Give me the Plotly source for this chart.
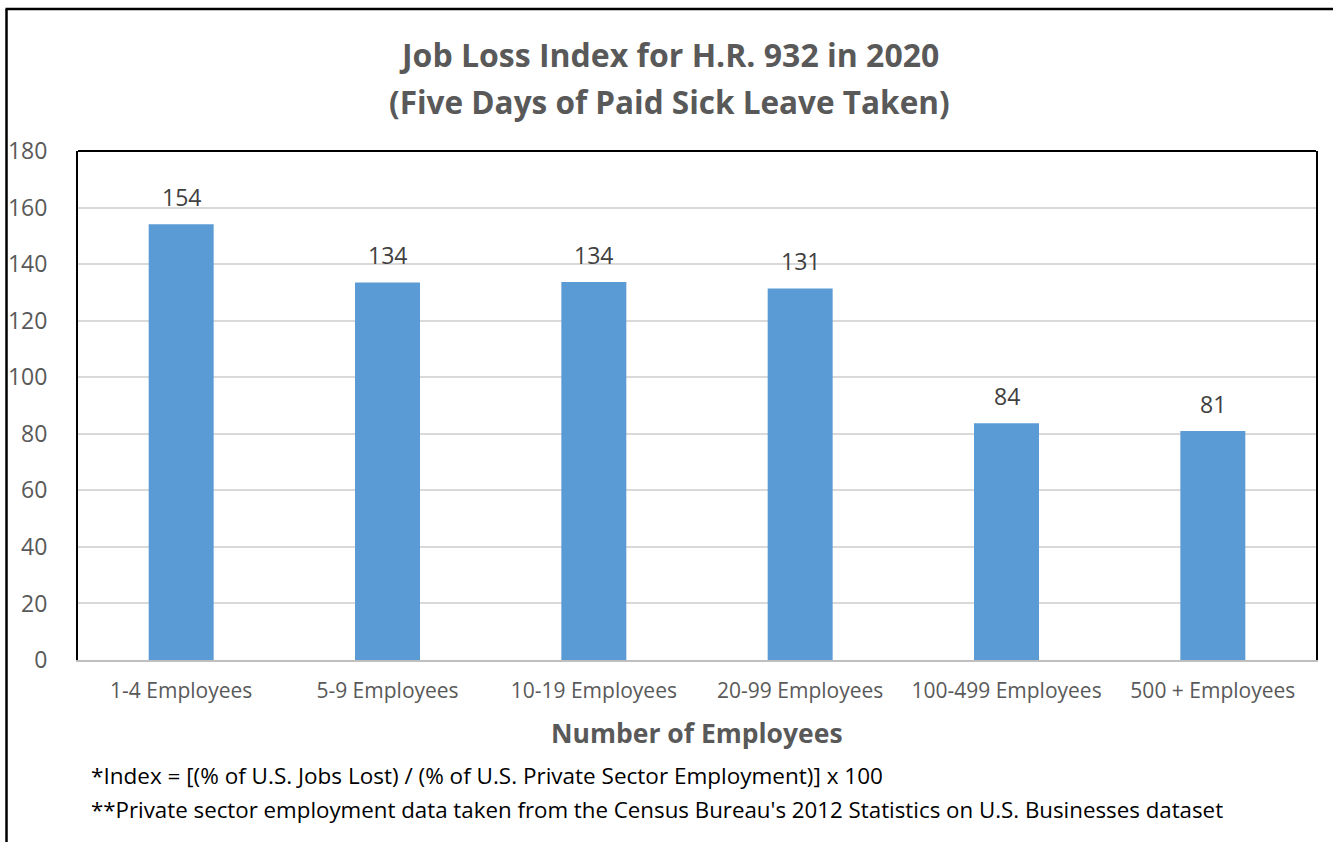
import plotly.graph_objects as go

categories = ["1-4 Employees", "5-9 Employees", "10-19 Employees", "20-99 Employees",
              "100-499 Employees", "500 + Employees"]
index_values = [154.1, 133.5, 133.7, 131.4, 83.7, 81.0]
y_ticks = [0, 20, 40, 60, 80, 100, 120, 140, 160, 180]

title_line1 = "Job Loss Index for H.R. 932 in 2020"
title_line2 = "(Five Days of Paid Sick Leave Taken)"
x_title = "Number of Employees"
note1 = "*Index = [(% of U.S. Jobs Lost) / (% of U.S. Private Sector Employment)] x 100"
note2 = "**Private sector employment data taken from the Census Bureau's 2012 Statistics on U.S. Businesses dataset"

FONT = "Open Sans"
OFF = 0  # body margin removed via post_script
W, H = 1333, 842
L, T = 78 - OFF, 151 - OFF
R = W - (1316 - OFF)
B = H - (660 - OFF)
pw, ph = W - L - R, H - T - B

def px(x):
    return (x - OFF - L) / pw

def py(y):
    return (H - B - (y - OFF)) / ph

fig = go.Figure(go.Bar(
    x=categories, y=index_values,
    marker=dict(color="#5B9BD5", line=dict(width=0)),
    cliponaxis=False,
))

label_annotations = [
    dict(x=c, y=v, xref="x", yref="y", text=f"{v:.0f}", showarrow=False,
         xanchor="center", yanchor="bottom", yshift=9,
         font=dict(family=FONT, size=23, color="#404040"))
    for c, v in zip(categories, index_values)
]

fig.update_layout(
    width=W, height=H,
    margin=dict(l=L, r=R, t=T, b=B, autoexpand=False),
    paper_bgcolor="white", plot_bgcolor="white",
    bargap=0.685,
    showlegend=False,
    xaxis=dict(showline=True, linecolor="#BFBFBF", linewidth=2, automargin=False,
               tickfont=dict(family=FONT, size=21, color="#595959"),
               ticks="", ticklabelstandoff=11),
    yaxis=dict(range=[0, 180], tickvals=y_ticks, showgrid=True, gridcolor="#D9D9D9",
               gridwidth=1.5, zeroline=False, showline=True, linecolor="black",
               linewidth=2, mirror=True, ticks="", automargin=False,
               tickfont=dict(family=FONT, size=23, color="#595959"),
               ticklabelstandoff=24),
    shapes=[
        dict(type="line", xref="paper", yref="paper", x0=0, x1=1, y0=1, y1=1,
             line=dict(color="black", width=2)),
        dict(type="line", xref="paper", yref="paper", x0=px(6.5), x1=px(6.5),
             y0=py(9), y1=py(H + 20), line=dict(color="black", width=2.5)),
        dict(type="line", xref="paper", yref="paper", x0=px(5.5), x1=px(W + 20),
             y0=py(9), y1=py(9), line=dict(color="black", width=2.5)),
    ],
    annotations=label_annotations + [
        dict(text=title_line1, xref="paper", yref="paper", x=px(669), y=py(54),
             xanchor="center", yanchor="middle", showarrow=False,
             font=dict(family=FONT, size=32, color="#595959", weight="bold")),
        dict(text=title_line2, xref="paper", yref="paper", x=px(669), y=py(101),
             xanchor="center", yanchor="middle", showarrow=False,
             font=dict(family=FONT, size=31.5, color="#595959", weight="bold")),
        dict(text=x_title, xref="paper", yref="paper", x=0.5, y=py(733),
             xanchor="center", yanchor="middle", showarrow=False,
             font=dict(family=FONT, size=26.5, color="#595959", weight="bold")),
        dict(text=note1, xref="paper", yref="paper", x=px(89), y=py(776),
             xanchor="left", yanchor="middle", showarrow=False,
             font=dict(family=FONT, size=22.5, color="black")),
        dict(text=note2, xref="paper", yref="paper", x=px(89), y=py(809),
             xanchor="left", yanchor="middle", showarrow=False,
             font=dict(family=FONT, size=22.3, color="black")),
    ],
)

fig.write_html("out.html", config={"displayModeBar": False},
               post_script="document.body.style.margin='0px';document.body.style.overflow='hidden';")
